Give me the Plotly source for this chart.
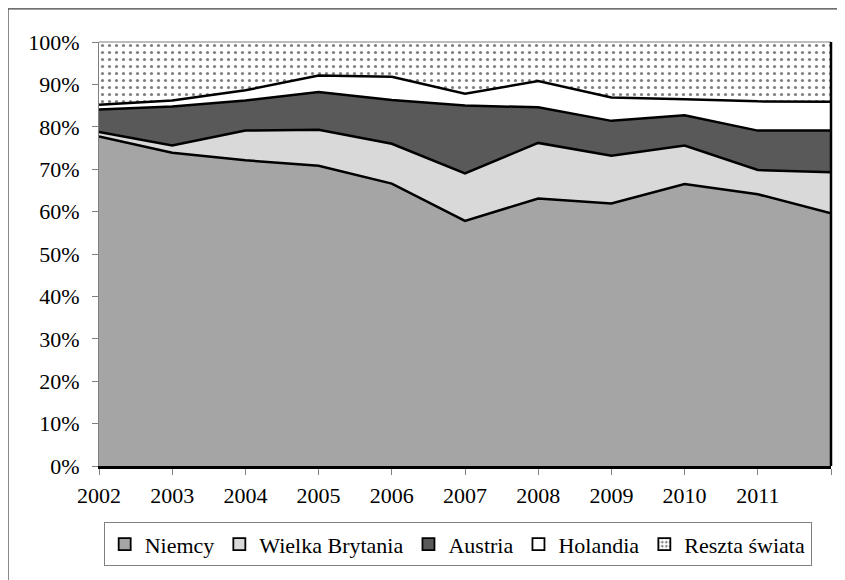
import plotly.graph_objects as go

years = [2002, 2003, 2004, 2005, 2006, 2007, 2008, 2009, 2010, 2011, 2012]
tick_labels = ["2002", "2003", "2004", "2005", "2006", "2007", "2008", "2009", "2010", "2011", ""]

niemcy = [77.7, 73.9, 72.1, 70.8, 66.6, 57.8, 63.1, 61.9, 66.5, 64.1, 59.6]
wielka_brytania = [1.1, 1.7, 7.0, 8.5, 9.4, 11.2, 13.1, 11.3, 9.1, 5.7, 9.7]
austria = [5.3, 9.2, 7.1, 8.9, 10.3, 16.0, 8.4, 8.2, 7.1, 9.3, 9.8]
holandia = [1.1, 1.4, 2.4, 3.9, 5.5, 2.8, 6.2, 5.5, 3.8, 6.9, 6.8]
reszta = [14.8, 13.8, 11.4, 7.9, 8.2, 12.2, 9.2, 13.1, 13.5, 14.0, 14.1]

series = [
    ("Niemcy", niemcy, "#a5a5a5", None),
    ("Wielka Brytania", wielka_brytania, "#d9d9d9", None),
    ("Austria", austria, "#595959", None),
    ("Holandia", holandia, "#ffffff", None),
    ("Reszta świata", reszta, "#ffffff", "."),
]

FONT = "Times New Roman"
FS = 22

fig = go.Figure()
for name, vals, color, pat in series:
    kw = {}
    if pat:
        kw["fillpattern"] = dict(shape=".", fgcolor="black", bgcolor="white", size=7, solidity=0.16)
    fig.add_trace(go.Scatter(
        x=years, y=vals, name=name, mode="lines", stackgroup="one", groupnorm="percent",
        fillcolor=color,
        line=dict(color="black", width=0 if pat else 2.5),
        showlegend=False, hoverinfo="skip", **kw))

for name, vals, color, pat in series:
    marker = dict(color=color, line=dict(color="black", width=1.8))
    if pat:
        marker["pattern"] = dict(shape=".", fgcolor="black", bgcolor="white", size=5, solidity=0.3)
    fig.add_trace(go.Bar(x=[None], y=[None], name=name, marker=marker, showlegend=True))

fig.update_layout(
    width=845, height=580,
    margin=dict(l=91, r=22, t=34, b=122),
    paper_bgcolor="white", plot_bgcolor="white",
    font=dict(family=FONT, size=FS, color="black"),
    showlegend=True,
    legend=dict(orientation="h", x=0.49, xanchor="center", y=-0.133, yanchor="top",
                traceorder="normal",
                bordercolor="#7f7f7f", borderwidth=1, bgcolor="white",
                font=dict(family=FONT, size=FS), itemwidth=30),
    xaxis=dict(range=[2002, 2012], tickmode="array", tickvals=years, ticktext=tick_labels,
               ticks="outside", ticklen=6, tickcolor="#7f7f7f", showgrid=False, zeroline=False,
               showline=True, linecolor="black", linewidth=2.5, ticklabelstandoff=2),
    yaxis=dict(range=[0, 100], tickmode="array", tickvals=list(range(0, 101, 10)),
               ticktext=[f"{v}%" for v in range(0, 101, 10)],
               ticks="outside", ticklen=6, tickcolor="#7f7f7f", showgrid=False, zeroline=False,
               showline=True, linecolor="#7f7f7f", linewidth=1, ticklabelstandoff=8),
    shapes=[
        dict(type="line", xref="paper", yref="paper", x0=0, x1=1, y0=1, y1=1,
             line=dict(color="#7f7f7f", width=1)),
        dict(type="line", xref="paper", yref="paper", x0=1, x1=1, y0=0, y1=1,
             line=dict(color="black", width=2.5)),
        dict(type="rect", xref="paper", yref="paper", x0=-0.1243, x1=1.5, y0=-0.6, y1=1.078,
             line=dict(color="#404040", width=1.2)),
    ],
)

fig.write_html("out.html")
